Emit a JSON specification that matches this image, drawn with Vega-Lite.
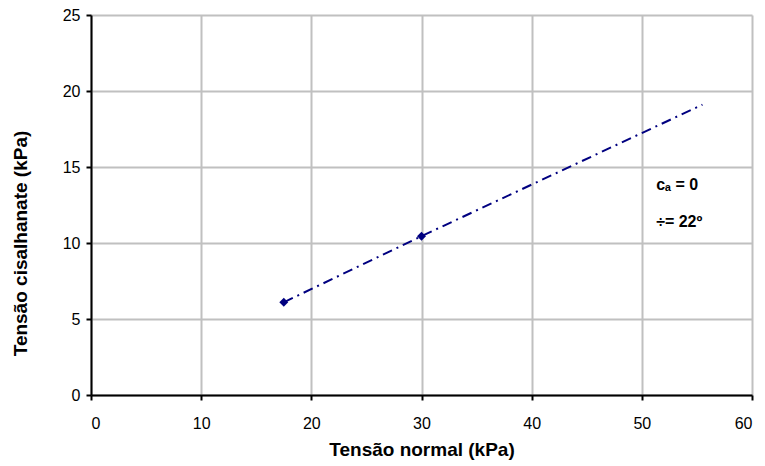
{
  "$schema": "https://vega.github.io/schema/vega-lite/v6.json",
  "width": 661,
  "height": 380,
  "autosize": "none",
  "padding": {"left": 91, "top": 15, "right": 13, "bottom": 71},
  "background": "white",
  "config": {
    "view": {"stroke": null},
    "font": "Liberation Sans"
  },
  "datasets": {
    "pts": [
      {"normal": 17.5, "shear": 6.1},
      {"normal": 30, "shear": 10.45}
    ],
    "trend": [
      {"normal": 17.5, "shear": 6.1},
      {"normal": 30, "shear": 10.45},
      {"normal": 55.5, "shear": 19.1}
    ],
    "notes": [
      {"normal": 51.3, "shear": 13.8, "label": "cₐ = 0"},
      {"normal": 51.3, "shear": 11.4, "label": "÷= 22º"}
    ]
  },
  "layer": [
    {
      "data": {"name": "trend"},
      "mark": {"type": "line", "color": "#000080", "strokeWidth": 2, "strokeDash": [10, 5, 2, 5]},
      "encoding": {
        "x": {
          "field": "normal", "type": "quantitative",
          "scale": {"domain": [0, 60], "nice": false},
          "axis": {
            "values": [0, 10, 20, 30, 40, 50, 60],
            "title": "Tensão normal (kPa)",
            "titleFont": "Liberation Sans", "titleFontSize": 19, "titleFontWeight": "bold", "titleColor": "black",
            "titlePadding": 9,
            "labelFont": "Liberation Sans", "labelFontSize": 16, "labelColor": "black", "labelPadding": 15,
            "domainColor": "black", "domainWidth": 2,
            "tickColor": "black", "tickSize": 5, "tickWidth": 2,
            "grid": true, "gridColor": "#c0c0c0", "gridWidth": 2
          }
        },
        "y": {
          "field": "shear", "type": "quantitative",
          "scale": {"domain": [0, 25], "nice": false},
          "axis": {
            "values": [0, 5, 10, 15, 20, 25],
            "title": "Tensão cisalhanate (kPa)",
            "titleFont": "Liberation Sans", "titleFontSize": 19, "titleFontWeight": "bold", "titleColor": "black",
            "titlePadding": 32,
            "titleY": 228,
            "labelFont": "Liberation Sans", "labelFontSize": 16, "labelColor": "black", "labelPadding": 6,
            "domainColor": "black", "domainWidth": 2,
            "tickColor": "black", "tickSize": 5, "tickWidth": 2,
            "grid": true, "gridColor": "#c0c0c0", "gridWidth": 2
          }
        }
      }
    },
    {
      "data": {"name": "pts"},
      "mark": {"type": "point", "shape": "diamond", "filled": true, "color": "#000080", "size": 80, "opacity": 1},
      "encoding": {
        "x": {"field": "normal", "type": "quantitative"},
        "y": {"field": "shear", "type": "quantitative"}
      }
    },
    {
      "data": {"name": "notes"},
      "mark": {"type": "text", "align": "left", "baseline": "middle", "font": "Liberation Sans", "fontSize": 16, "fontWeight": "bold", "color": "black"},
      "encoding": {
        "x": {"field": "normal", "type": "quantitative"},
        "y": {"field": "shear", "type": "quantitative"},
        "text": {"field": "label"}
      }
    }
  ]
}
